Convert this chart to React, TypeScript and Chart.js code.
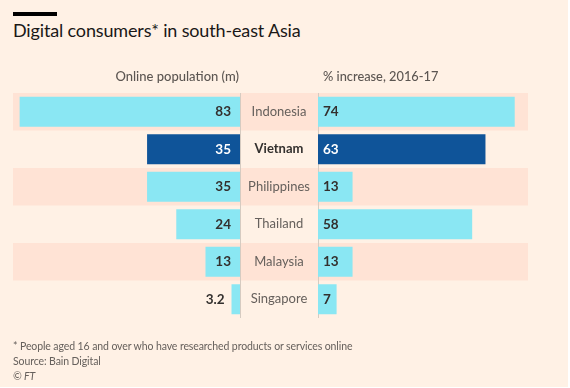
import React, { useEffect, useRef } from "react";
import { Chart, registerables } from "chart.js";

Chart.register(...registerables);

const countries = ["Indonesia", "Vietnam", "Philippines", "Thailand", "Malaysia", "Singapore"];
const onlinePopulation = [83, 35, 35, 24, 13, 3.2];
const increase2016to17 = [74, 63, 13, 58, 13, 7];
const highlighted = "Vietnam";

const titleText = "Digital consumers* in south-east Asia";
const leftHeader = "Online population (m)";
const rightHeader = "% increase, 2016-17";
const footnotes = [
  "* People aged 16 and over who have researched products or services online",
  "Source: Bain Digital",
];
const credit = "© FT";

const FONT = "Lato, 'Noto Sans', sans-serif";
const PAPER = "#FFF1E5";
const BAND = "#FFE3D5";
const LIGHT = "#8AE7F3";
const DARK = "#0F5499";
const TEXT = "#33302E";
const GREY = "#66605C";

const fmt = (v: number) => String(v);

const butterflyPlugin = {
  id: "butterfly",
  beforeDatasetsDraw(chart: any) {
    const { ctx, chartArea } = chart;
    const y = chart.scales.y;
    const n = countries.length;
    const pitch = (chartArea.bottom - chartArea.top) / n;
    ctx.save();
    ctx.fillStyle = BAND;
    countries.forEach((_, i) => {
      if (i % 2 === 0) {
        const cy = y.getPixelForValue(i);
        ctx.fillRect(chartArea.left, cy - pitch / 2, chartArea.right - chartArea.left, pitch);
      }
    });
    const xc = chart.scales.xC;
    ctx.strokeStyle = "#D6CBC1";
    ctx.lineWidth = 1;
    [xc.left, xc.right].forEach((x: number) => {
      ctx.beginPath();
      ctx.moveTo(Math.round(x) + 0.5, chartArea.top);
      ctx.lineTo(Math.round(x) + 0.5, chartArea.bottom);
      ctx.stroke();
    });
    ctx.restore();
  },
  afterDatasetsDraw(chart: any) {
    const { ctx, chartArea } = chart;
    const y = chart.scales.y;
    const xL = chart.scales.xL;
    const xC = chart.scales.xC;
    const xR = chart.scales.xR;
    ctx.save();
    ctx.textBaseline = "middle";

    ctx.font = `500 13px ${FONT}`;
    ctx.fillStyle = "#5C5652";
    ctx.textAlign = "right";
    ctx.fillText(leftHeader, xL.right - 1, chartArea.top - 16);
    ctx.textAlign = "left";
    ctx.font = `500 12.8px ${FONT}`;
    ctx.fillText(rightHeader, xR.left + 5, chartArea.top - 16);

    const metaL = chart.getDatasetMeta(0);
    const metaR = chart.getDatasetMeta(1);
    countries.forEach((c, i) => {
      const cy = y.getPixelForValue(i);
      const isHi = c === highlighted;
      ctx.font = `${isHi ? "bold " : ""}13px ${FONT}`;
      ctx.fillStyle = isHi ? TEXT : GREY;
      ctx.textAlign = "center";
      ctx.fillText(c, (xC.left + xC.right) / 2, cy);

      ctx.font = `bold 13.5px ${FONT}`;
      const bl = metaL.data[i];
      const tl = fmt(onlinePopulation[i]);
      const wl = ctx.measureText(tl).width;
      const barWL = Math.abs(bl.base - bl.x);
      ctx.textAlign = "right";
      if (barWL > wl + 14) {
        ctx.fillStyle = isHi ? "#FFFFFF" : TEXT;
        ctx.fillText(tl, bl.base - 9, cy);
      } else {
        ctx.fillStyle = TEXT;
        ctx.fillText(tl, Math.min(bl.x, bl.base) - 7, cy);
      }
      const br = metaR.data[i];
      const tr = fmt(increase2016to17[i]);
      const wr = ctx.measureText(tr).width;
      const barWR = Math.abs(br.x - br.base);
      ctx.textAlign = "left";
      if (barWR > wr + 8) {
        ctx.fillStyle = isHi ? "#FFFFFF" : TEXT;
        ctx.fillText(tr, br.base + 5, cy);
      } else {
        ctx.fillStyle = TEXT;
        ctx.fillText(tr, Math.max(br.x, br.base) + 5, cy);
      }
    });
    ctx.restore();
  },
};

const hiddenX = (weight: number, extra: any) => ({
  type: "linear",
  position: "bottom",
  stack: "cols",
  stackWeight: weight,
  ticks: { display: false },
  grid: { display: false, drawTicks: false },
  border: { display: false },
  ...extra,
});

export default function App() {
  const ref = useRef<HTMLCanvasElement | null>(null);

  useEffect(() => {
    document.body.style.margin = "0";
    const canvas = ref.current;
    if (!canvas) return;
    const colors = countries.map((c) => (c === highlighted ? DARK : LIGHT));
    const chart = new Chart(canvas, {
      type: "bar",
      data: {
        labels: countries,
        datasets: [
          {
            data: onlinePopulation,
            xAxisID: "xL",
            yAxisID: "y",
            backgroundColor: colors,
            borderWidth: 0,
            barPercentage: 0.8,
            categoryPercentage: 1,
            grouped: false,
          } as any,
          {
            data: increase2016to17,
            xAxisID: "xR",
            yAxisID: "y",
            backgroundColor: colors,
            borderWidth: 0,
            barPercentage: 0.8,
            categoryPercentage: 1,
            grouped: false,
          } as any,
        ],
      },
      options: {
        indexAxis: "y",
        animation: false,
        responsive: false,
        maintainAspectRatio: false,
        layout: { padding: { left: 13, right: 42, top: 93, bottom: 70 } },
        plugins: { legend: { display: false }, tooltip: { enabled: false }, title: { display: false } },
        scales: {
          y: { type: "category", display: false },
          xL: hiddenX(227, { reverse: true, min: 0, max: 85.5 }),
          xC: hiddenX(78, { min: 0, max: 1 }),
          xR: hiddenX(210, { min: 0, max: 79 }),
        } as any,
      },
      plugins: [butterflyPlugin],
    });
    return () => chart.destroy();
  }, []);

  return (
    <div
      style={{
        position: "absolute",
        left: 0,
        top: 0,
        width: 568,
        height: 387,
        background: PAPER,
        fontFamily: FONT,
        overflow: "hidden",
      }}
    >
      <div style={{ position: "absolute", left: 13, top: 12, width: 44, height: 4, background: "#000" }} />
      <div
        style={{
          position: "absolute",
          left: 13,
          top: 19,
          fontSize: 18,
          letterSpacing: "-0.15px",
          lineHeight: "22px",
          color: "#1A1817",
          whiteSpace: "nowrap",
        }}
      >
        {titleText}
      </div>
      <canvas ref={ref} width={570} height={388} style={{ position: "absolute", left: 0, top: 0 }} />
      <div
        style={{
          position: "absolute",
          left: 13,
          top: 339,
          fontSize: 10.5,
          letterSpacing: "-0.1px",
          lineHeight: "15px",
          color: GREY,
          whiteSpace: "nowrap",
        }}
      >
        {footnotes.map((f) => (
          <div key={f}>{f}</div>
        ))}
        <div style={{ fontStyle: "italic" }}>{credit}</div>
      </div>
    </div>
  );
}
